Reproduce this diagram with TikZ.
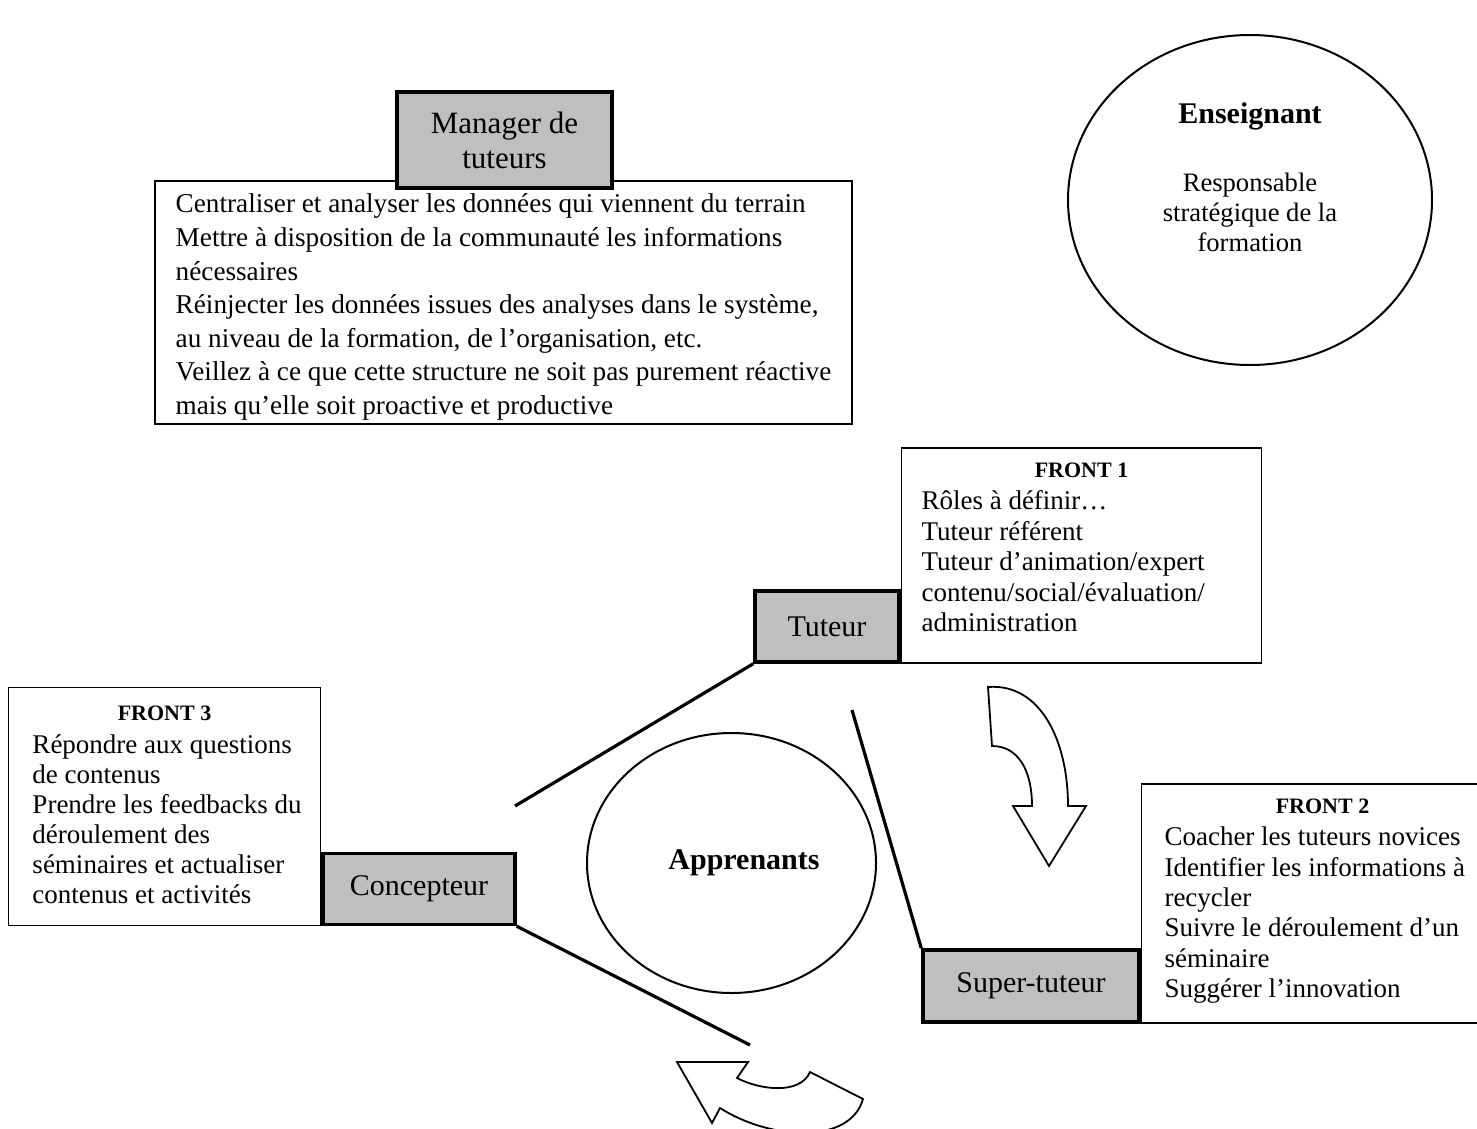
\documentclass[tikz,border=0pt]{standalone}
\usepackage{fontspec}
\setmainfont{Liberation Serif}
\usepackage{tikz}
\usetikzlibrary{positioning,shapes.geometric}

\begin{document}
\begin{tikzpicture}[x=0.5pt, y=-0.5pt, line width=0.8pt,
  role/.style={draw, line width=1.7pt, fill=black!25, inner sep=0pt, align=center,
    font=\fontsize{15}{17.5}\selectfont},
  textbox/.style={draw, inner sep=0pt},
  fronthead/.style={inner sep=0pt, font=\fontsize{11}{13}\selectfont\bfseries},
  fronttext/.style={inner sep=0pt, align=left, font=\fontsize{13.5}{15.2}\selectfont},
  link/.style={line width=1.6pt},
  curvearrow/.style={draw, line width=0.9pt, fill=white, line join=miter}]

  \useasboundingbox (0,0) rectangle (1477,1129);
  \clip (0,0) rectangle (1477,1129);

  % manager
  \node[textbox, minimum width=348.5pt, minimum height=121.5pt, align=left,
    font=\fontsize{13.6}{16.8}\selectfont] (managerText) at (503.5,302.5)
    {\rule{0pt}{14pt}Centraliser et analyser les données qui viennent du terrain\\
     Mettre à disposition de la communauté les informations\\
     nécessaires\\
     Réinjecter les données issues des analyses dans le système,\\
     au niveau de la formation, de l’organisation, etc.\\
     Veillez à ce que cette structure ne soit pas purement réactive\\
     mais qu’elle soit proactive et productive};
  \node[role, minimum width=107.5pt, minimum height=48pt, font=\fontsize{15.5}{17.5}\selectfont] (manager) at (504.5,140) {Manager de\\tuteurs};

  % enseignant
  \node[draw, ellipse, line width=1pt, minimum width=182pt, minimum height=165pt, inner sep=0pt] (enseignant) at (1250,200) {};
  \node[font=\fontsize{15}{18}\selectfont\bfseries] (enseignantTitle) at (1250,116) {Enseignant};
  \node[align=center, font=\fontsize{13.3}{15}\selectfont] (enseignantRole) at (1250,212) {Responsable\\stratégique de la\\formation};

  % tuteur
  \node[role, minimum width=72pt, minimum height=35.5pt] (tuteur) at (827,626.5) {Tuteur};
  \node[textbox, anchor=south west, minimum width=180pt, minimum height=107.5pt] (front1) at (tuteur.south east) {};
  \node[fronthead, below=7.5pt of front1.north] (front1Head) {FRONT 1};
  \node[fronttext, anchor=north west] (front1Text) at ([xshift=10pt, yshift=-21.5pt]front1.north west)
    {Rôles à définir…\\Tuteur référent\\Tuteur d’animation/expert\\contenu/social/évaluation/\\administration};

  % super-tuteur
  \node[role, minimum width=108pt, minimum height=36pt] (superTuteur) at (1031,986) {Super-tuteur};
  \node[textbox, anchor=south west, minimum width=181pt, minimum height=119.5pt] (front2) at (superTuteur.south east) {};
  \node[fronthead, below=7.5pt of front2.north] (front2Head) {FRONT 2};
  \node[fronttext, anchor=north west] (front2Text) at ([xshift=11.5pt, yshift=-21.5pt]front2.north west)
    {Coacher les tuteurs novices\\Identifier les informations à\\recycler\\Suivre le déroulement d’un\\séminaire\\Suggérer l’innovation};

  % concepteur
  \node[role, minimum width=96pt, minimum height=35.5pt] (concepteur) at (419,889) {Concepteur};
  \node[textbox, anchor=south east, minimum width=156pt, minimum height=119pt] (front3) at (concepteur.south west) {};
  \node[fronthead, below=9.25pt of front3.north] (front3Head) {FRONT 3};
  \node[fronttext, anchor=north west, font=\fontsize{13.5}{15}\selectfont] (front3Text) at ([xshift=12pt, yshift=-23.5pt]front3.north west)
    {Répondre aux questions\\de contenus\\Prendre les feedbacks du\\déroulement des\\séminaires et actualiser\\contenus et activités};

  % apprenants
  \node[draw, ellipse, line width=1pt, minimum width=144.5pt, minimum height=130pt, inner sep=0pt] (apprenants) at (731.5,863) {};
  \node[font=\fontsize{15}{18}\selectfont\bfseries] (apprenantsLabel) at (744,863) {Apprenants};

  \coordinate (linkA) at (515,806);
  \coordinate (linkB) at (852,710);
  \coordinate (linkC) at (750,1045);
  \draw[link] (linkA) -- (tuteur.south west);
  \draw[link] (linkB) -- (superTuteur.north west);
  \draw[link] (concepteur.south east) -- (linkC);

  % curved arrows
  \draw[curvearrow] (988,687) .. controls (1040,683) and (1068,740) .. (1068,806) -- (1086,806) -- (1049,866)
    -- (1013,806) -- (1032,806) .. controls (1032,770) and (1018,746) .. (992,746) -- cycle;
  \draw[curvearrow] (677,1062) -- (748,1062) -- (737,1078) .. controls (760,1090) and (800,1095) .. (810,1072)
    -- (863,1099) .. controls (850,1145) and (770,1140) .. (720,1108) -- (712,1123) -- cycle;

\end{tikzpicture}
\end{document}
